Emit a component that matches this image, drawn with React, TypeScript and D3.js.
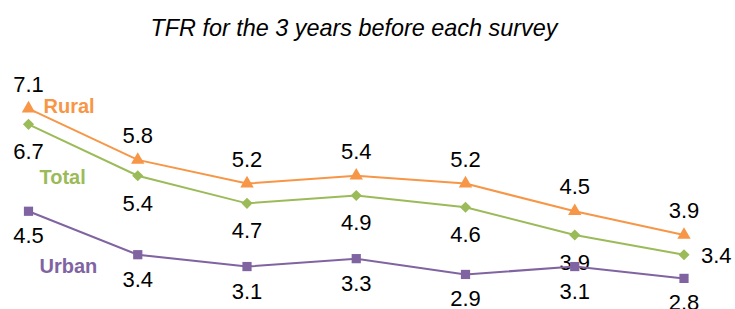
import * as d3 from 'd3';
import React, { useEffect, useRef } from 'react';

// survey rounds (no axis labels shown in the chart)
const surveys = ['S1', 'S2', 'S3', 'S4', 'S5', 'S6', 'S7'];
const rural = [7.1, 5.8, 5.2, 5.4, 5.2, 4.5, 3.9];
const total = [6.7, 5.4, 4.7, 4.9, 4.6, 3.9, 3.4];
const urban = [4.5, 3.4, 3.1, 3.3, 2.9, 3.1, 2.8];
const seriesNames = ['Rural', 'Total', 'Urban'];

const WIDTH = 735;
const HEIGHT = 309;
const FONT = "'Liberation Sans', Arial, sans-serif";

export default function App() {
  const ref = useRef<SVGSVGElement>(null);

  useEffect(() => {
    const svg = d3.select(ref.current);
    svg.selectAll('*').remove();

    const x = d3.scalePoint<string>().domain(surveys).range([28.5, 684]);
    const y = d3.scaleLinear().domain([0, 8]).range([389, 73]);

    // diamond = square turned 45deg (d3's own diamond is too narrow)
    const series = [
      { name: seriesNames[0], values: rural, color: '#F79646', symbol: d3.symbolTriangle, size: 78, rot: 0, labelDy: -17, nameDx: 15, nameDy: 4 },
      { name: seriesNames[1], values: total, color: '#9BBB59', symbol: d3.symbolSquare, size: 62, rot: 45, labelDy: 35, nameDx: 11, nameDy: 60 },
      { name: seriesNames[2], values: urban, color: '#8064A2', symbol: d3.symbolSquare, size: 85, rot: 0, labelDy: 32, nameDx: 11, nameDy: 62 }
    ];

    // title
    svg
      .append('text')
      .attr('x', 354)
      .attr('y', 36)
      .attr('text-anchor', 'middle')
      .attr('font-family', FONT)
      .attr('font-style', 'italic')
      .attr('font-size', 23.4)
      .attr('fill', '#000')
      .text('TFR for the 3 years before each survey');

    const line = d3
      .line<number>()
      .x((_d, i) => x(surveys[i]) as number)
      .y((d) => y(d));

    series.forEach((s) => {
      const g = svg.append('g');

      g.append('path')
        .datum(s.values)
        .attr('d', line)
        .attr('fill', 'none')
        .attr('stroke', s.color)
        .attr('stroke-width', 2);

      g.selectAll('path.marker')
        .data(s.values)
        .enter()
        .append('path')
        .attr('class', 'marker')
        .attr('d', d3.symbol().type(s.symbol).size(s.size))
        .attr('transform', (d, i) => `translate(${x(surveys[i])},${y(d)}) rotate(${s.rot})`)
        .attr('fill', s.color);

      // value labels; the last Total label sits to the right of its point
      const isSide = (i: number) => s.name === 'Total' && i === s.values.length - 1;

      g.selectAll('text.value')
        .data(s.values)
        .enter()
        .append('text')
        .attr('class', 'value')
        .attr('font-family', FONT)
        .attr('font-size', 22)
        .attr('fill', '#000')
        .attr('text-anchor', (_d, i) => (isSide(i) ? 'start' : 'middle'))
        .attr('x', (_d, i) =>
          isSide(i) ? (x(surveys[i]) as number) + 17 : (x(surveys[i]) as number)
        )
        .attr('y', (d, i) => (isSide(i) ? y(d) + 8 : y(d) + s.labelDy))
        .text((d) => d.toFixed(1));

      // series name next to the first point
      g.append('text')
        .attr('x', (x(surveys[0]) as number) + s.nameDx)
        .attr('y', y(s.values[0]) + s.nameDy)
        .attr('font-family', FONT)
        .attr('font-weight', 'bold')
        .attr('font-size', 20)
        .attr('fill', s.color)
        .text(s.name);
    });
  }, []);

  return (
    <svg
      ref={ref}
      width={WIDTH}
      height={HEIGHT}
      style={{ position: 'absolute', left: 0, top: 0, background: '#fff', overflow: 'hidden' }}
    ></svg>
  );
}
